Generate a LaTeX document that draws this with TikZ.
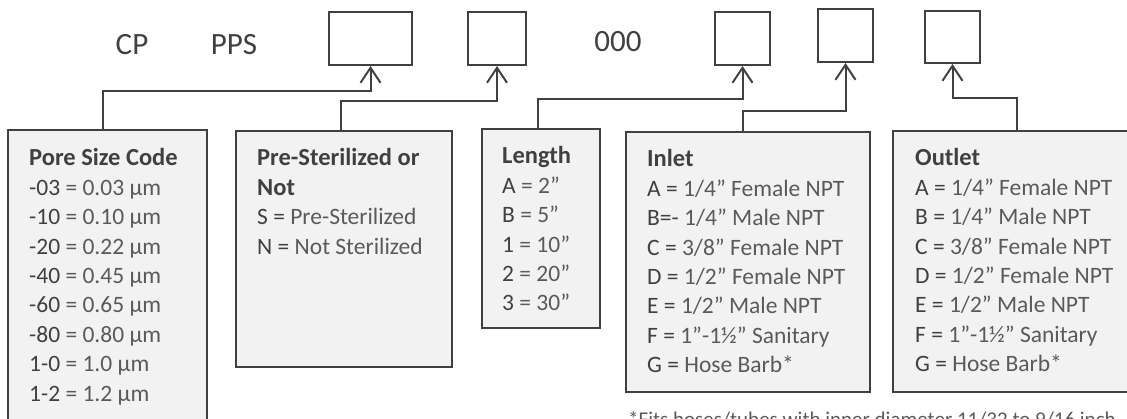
\documentclass[tikz,border=0pt]{standalone}
\usepackage{fontspec}
\setmainfont{Carlito}
\usetikzlibrary{arrows.meta}
\definecolor{ink}{HTML}{404040}
\definecolor{soft}{HTML}{5A5A5A}
\definecolor{boxfill}{HTML}{F2F2F2}
\newcommand\kc[1]{\textcolor{ink}{#1}}
\newcommand\kt[1]{{\fontsize{24.5}{29.4}\selectfont\bfseries\color{ink}#1}}
\begin{document}
\begin{tikzpicture}[x=1pt,y=-1pt,
  codebox/.style={draw=ink, line width=2pt, fill=white, inner sep=0pt},
  keybox/.style={draw=ink, line width=1.8pt, fill=boxfill, inner sep=0pt},
  conn/.style={draw=ink, line width=2pt, -{Straight Barb[length=15pt,width=20pt,line width=2pt]}},
  keytext/.style={anchor=base west, inner sep=0pt, text=soft, font=\fontsize{23.5}{29.4}\selectfont},
  toptext/.style={anchor=base, inner sep=0pt, text=ink, font=\fontsize{31}{36}\selectfont}]
\useasboundingbox (0,0) rectangle (1127,419);
\clip (0,0) rectangle (1127,419);

% top code line
\node[toptext] (cp) at (132,55) {CP};
\node[toptext] (pps) at (234,55) {PPS};
\node[toptext] (zeros) at (618,52) {000};
\node[codebox, minimum width=83pt, minimum height=53pt] (c1) at (370.5,38.5) {};
\node[codebox, minimum width=58pt, minimum height=53pt] (c2) at (497,38.5) {};
\node[codebox, minimum width=55pt, minimum height=53pt] (c3) at (742.5,38.5) {};
\node[codebox, minimum width=55pt, minimum height=53pt] (c4) at (845.5,35.5) {};
\node[codebox, minimum width=55pt, minimum height=52pt] (c5) at (952.5,37) {};

% key boxes
\node[keybox, minimum width=199pt, minimum height=315pt] (pore) at (107.5,287.5) {};
\node[keybox, minimum width=216pt, minimum height=236pt] (pre) at (344,249) {};
\node[keybox, minimum width=118pt, minimum height=199pt] (len) at (541,228.5) {};
\node[keybox, minimum width=244pt, minimum height=260pt] (inl) at (748,262) {};
\node[keybox, minimum width=247pt, minimum height=261pt] (outl) at (1016.5,261.5) {};

% key texts
\node[keytext] (poretext) at (29,166) {\begin{tabular}[t]{@{}l@{}}
\kt{Pore Size Code}\\
\kc{-03} = 0.03 µm\\
\kc{-10} = 0.10 µm\\
\kc{-20} = 0.22 µm\\
\kc{-40} = 0.45 µm\\
\kc{-60} = 0.65 µm\\
\kc{-80} = 0.80 µm\\
\kc{1-0} = 1.0 µm\\
\kc{1-2} = 1.2 µm
\end{tabular}};
\node[keytext] (pretext) at (257,166) {\begin{tabular}[t]{@{}l@{}}
\kt{Pre-Sterilized or}\\
\kt{Not}\\
\kc{S =} Pre-Sterilized\\
\kc{N =} Not Sterilized
\end{tabular}};
\node[keytext] (lentext) at (502,164) {\begin{tabular}[t]{@{}l@{}}
\kt{Length}\\
\kc{A} = 2”\\
\kc{B} = 5”\\
\kc{1} = 10”\\
\kc{2} = 20”\\
\kc{3} = 30”
\end{tabular}};
\node[keytext] (inltext) at (647,167) {\begin{tabular}[t]{@{}l@{}}
\kt{Inlet}\\
\kc{A =} 1/4” Female NPT\\
\kc{B=-} 1/4” Male NPT\\
\kc{C =} 3/8” Female NPT\\
\kc{D =} 1/2” Female NPT\\
\kc{E =} 1/2” Male NPT\\
\kc{F =} 1”-1½” Sanitary\\
\kc{G =} Hose Barb*
\end{tabular}};
\node[keytext] (outltext) at (915,166) {\begin{tabular}[t]{@{}l@{}}
\kt{Outlet}\\
\kc{A =} 1/4” Female NPT\\
\kc{B =} 1/4” Male NPT\\
\kc{C =} 3/8” Female NPT\\
\kc{D =} 1/2” Female NPT\\
\kc{E =} 1/2” Male NPT\\
\kc{F =} 1”-1½” Sanitary\\
\kc{G =} Hose Barb*
\end{tabular}};

\node[anchor=base west, inner sep=0pt, text=soft, font=\fontsize{21}{25}\selectfont] (note) at (628,426) {*Fits hoses/tubes with inner diameter 11/32 to 9/16 inch};

% connectors
\draw[conn] ([xshift=-4.5pt]pore.north) |- ([yshift=-25pt]c1.south) -- (c1.south);
\draw[conn] ([xshift=-3pt]pre.north) |- ([yshift=-35pt]c2.south) -- (c2.south);
\draw[conn] ([xshift=-3pt]len.north) |- ([yshift=-33pt]c3.south) -- (c3.south);
\draw[conn] ([xshift=-5pt]inl.north) |- ([yshift=-48pt]c4.south) -- (c4.south);
\draw[conn] (outl.north) |- ([yshift=-34pt]c5.south) -- (c5.south);
\end{tikzpicture}
\end{document}
